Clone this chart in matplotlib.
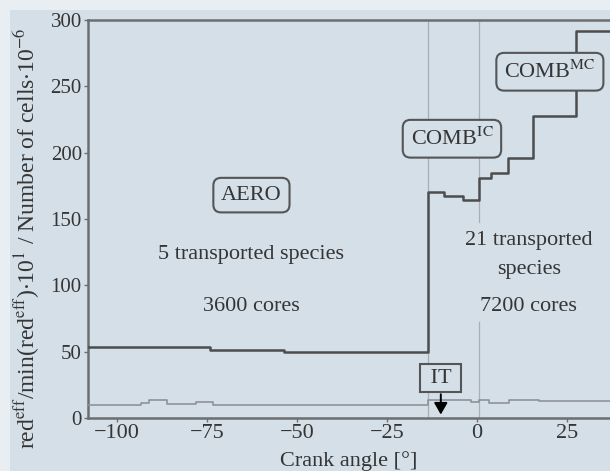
import matplotlib
matplotlib.use("Agg")
import matplotlib.pyplot as plt
from matplotlib.patches import Rectangle

# ---- data ----
cells_edges = [-108, -74, -53.5, -13.6, -9.2, -3.9, 0.5, 4.0, 8.6, 15.5, 27.5, 40]
cells_vals = [53.5, 51, 49.5, 170, 167, 164, 181, 184.5, 196, 228, 292]

red_edges = [-108, -93.3, -91, -86, -78, -73.3, -13.6, -1.7, 0.5, 3.3, 8.9, 17.2, 40]
red_vals = [10, 11, 13.5, 10.5, 12, 10, 13.5, 11.8, 13.2, 11.3, 13.5, 12.6]

xticks = [-100, -75, -50, -25, 0, 25]
yticks = [0, 50, 100, 150, 200, 250, 300]
vlines_x = [-13.6, 0.5]

bg = "#d4dfe8"
light = "#e9eef2"
tc = "#353535"

plt.rcParams['font.family'] = ['Liberation Serif', 'DejaVu Serif']
plt.rcParams['mathtext.fontset'] = 'stix'

fig = plt.figure(figsize=(6.10, 4.71), dpi=100, facecolor=light)
fig.patches.append(Rectangle((10/610, 0), 1, (471-10)/471, transform=fig.transFigure,
                             facecolor=bg, edgecolor='none', zorder=-10))
ax = fig.add_axes([88/610, 1-418/471, 1-88/610, (418-20)/471])
ax.set_facecolor(bg)

ax.set_xlim(-108, 37)
ax.set_ylim(0, 300)

# vertical guide lines
vc = "#a9afb4"
ax.plot([vlines_x[0]]*2, [0, 300], color=vc, lw=0.9, zorder=1)
ax.plot([vlines_x[1]]*2, [0, 72], color=vc, lw=0.9, zorder=1)
ax.plot([vlines_x[1]]*2, [148, 300], color=vc, lw=0.9, zorder=1)

# lines
ve = cells_vals + [cells_vals[-1]]
ax.step(cells_edges, ve, where='post', color="#4d4d4d", lw=1.8, zorder=3)
re = red_vals + [red_vals[-1]]
ax.step(red_edges, re, where='post', color="#8e9397", lw=1.2, zorder=3)

# annotations
fs = 16
boxkw = dict(boxstyle="round,pad=0.35,rounding_size=0.35", facecolor=bg,
             edgecolor="#555555", lw=1.5)
ax.text(-62.6, 168, "AERO", ha='center', va='center', fontsize=fs, color=tc, bbox=boxkw, zorder=5)
ax.text(-62.6, 123, "5 transported species", ha='center', va='center', fontsize=fs, color=tc)
ax.text(-62.6, 84, "3600 cores", ha='center', va='center', fontsize=fs, color=tc)

ax.text(-6.9, 210.5, r"COMB$^{\mathrm{IC}}$", ha='center', va='center', fontsize=fs, color=tc,
        bbox=boxkw, zorder=5)
ax.text(20.3, 261, r"COMB$^{\mathrm{MC}}$", ha='center', va='center', fontsize=fs, color=tc,
        bbox=boxkw, zorder=5)

ax.text(14.4, 134, "21 transported", ha='center', va='center', fontsize=fs, color=tc, zorder=4)
ax.text(14.4, 112, "species", ha='center', va='center', fontsize=fs, color=tc, zorder=4)
ax.text(14.4, 84, "7200 cores", ha='center', va='center', fontsize=fs, color=tc, zorder=4)

ax.text(-10, 30, " IT ", ha='center', va='center', fontsize=fs, color=tc,
        bbox=dict(boxstyle="square,pad=0.2", facecolor=bg, edgecolor="#555555", lw=1.5), zorder=5)
ax.annotate("", xy=(-10, 0.5), xytext=(-10, 20),
            arrowprops=dict(arrowstyle="-|>,head_width=0.4,head_length=0.7",
                            color="black", lw=1.4), zorder=6)

# axes styling
ax.spines['right'].set_visible(False)
for s in ['left', 'top', 'bottom']:
    ax.spines[s].set_color("#6b6f72")
    ax.spines[s].set_linewidth(1.8)
ax.set_xticks(xticks)
ax.set_xticklabels([f"{t}".replace('-', '\u2212') for t in xticks])
ax.set_yticks(yticks)
ax.tick_params(direction='out', length=3, width=1, color="#6b6f72",
               labelcolor=tc, pad=1.5)
ax.tick_params(axis='x', labelsize=16)
ax.tick_params(axis='y', labelsize=15)

fig.text((88 + 610) / 2 / 610, 0.0, "Crank angle [°]", ha='center', va='bottom',
         fontsize=16, color=tc)
fig.text(27/610, 1 - 238/471,
         r"red$^{\mathrm{eff}}$/min(red$^{\mathrm{eff}}$)$\cdot$10$^{1}$ / Number of cells$\cdot$10$^{-6}$",
         rotation=90, ha='center', va='center', fontsize=17, color=tc)

fig.savefig("out.png", dpi=100, facecolor=light)
